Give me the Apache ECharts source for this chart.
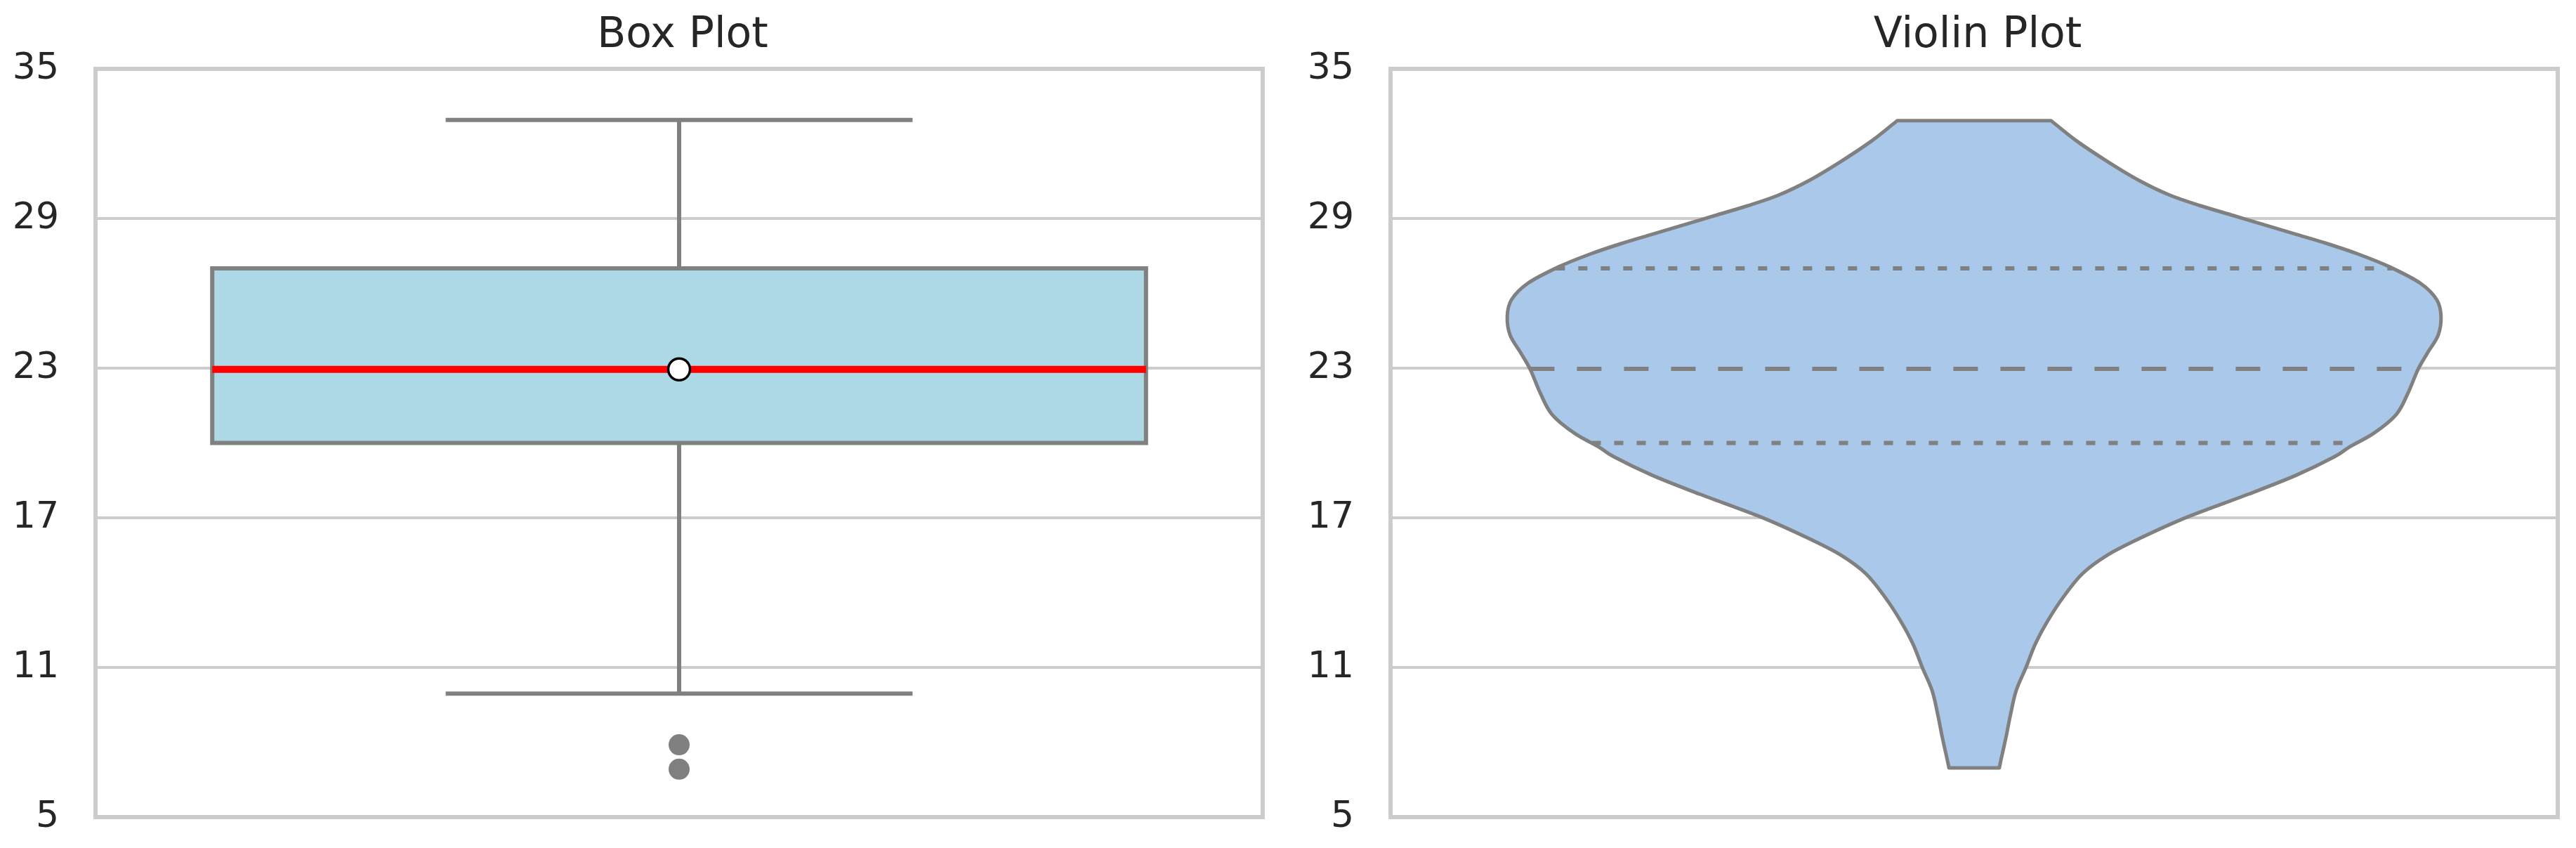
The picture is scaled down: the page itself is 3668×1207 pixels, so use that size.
<!DOCTYPE html>
<html>
<head>
<meta charset="utf-8">
<title>Box Plot / Violin Plot</title>
<script src="https://cdn.jsdelivr.net/npm/echarts@6/dist/echarts.min.js"></script>
<style>
    html, body { margin: 0; padding: 0; background: #ffffff; }
    #chart { width: 3668px; height: 1207px; }
</style>
</head>
<body>
<div id="chart"></div>
<script>
// panel titles and y ticks
let panelTitles = ['Box Plot', 'Violin Plot'];
let yTicks = [5, 11, 17, 23, 29, 35];

// box plot: lower whisker, Q1, median, Q3, upper whisker
let boxStats = [9.95, 20.0, 22.95, 27.0, 32.95];
let boxMean = [22.95];
let boxOutliers = [7.9, 6.92];

// violin outline: y value and relative density (1 = widest point)
let violinY = [32.92, 32.13, 31.28, 30.53, 29.93, 29.5, 29.12, 28.75, 28.37, 28.0,
    27.57, 27.06, 26.4, 25.74, 25.08, 24.33, 23.58, 22.92, 21.99, 21.14,
    20.39, 19.83, 19.45, 18.7, 17.95, 17.01, 16.16, 15.51, 14.76, 13.82,
    12.88, 11.94, 11.0, 10.07, 9.12, 8.18, 7.25, 6.97];
let violinDensity = [0.165, 0.218, 0.286, 0.353, 0.42, 0.487, 0.555, 0.621, 0.689, 0.755,
    0.823, 0.89, 0.956, 0.991, 1.0, 0.994, 0.97, 0.95, 0.929, 0.904,
    0.856, 0.803, 0.772, 0.689, 0.588, 0.454, 0.353, 0.286, 0.232, 0.191,
    0.158, 0.131, 0.111, 0.09, 0.078, 0.068, 0.057, 0.054];
// Q1, median, Q3 drawn inside the violin
let violinQuartiles = [20.0, 22.97, 27.0];

let chartDom = document.getElementById('chart');
let myChart = echarts.init(chartDom);

let gray = '#808080';
let textColor = '#262626';
let gridColor = '#cccccc';
let boxHalf = 0.4;      // box is 80% of the panel width
let capHalf = 0.2;      // whisker caps are half the box
let violinHalf = 0.4;   // widest part of violin

// linear lookup of density between the sampled outline points
let densityAt = function (y) {
    for (let i = 0; i < violinY.length - 1; i++) {
        let y0 = violinY[i], y1 = violinY[i + 1];
        if (y <= y0 && y >= y1) {
            let t = (y - y0) / (y1 - y0);
            return violinDensity[i] + t * (violinDensity[i + 1] - violinDensity[i]);
        }
    }
    return 0;
};

let lineEl = function (p0, p1, color, width, dash) {
    return {
        type: 'line',
        shape: { x1: p0[0], y1: p0[1], x2: p1[0], y2: p1[1] },
        style: { stroke: color, lineWidth: width, lineDash: dash || null, lineCap: 'butt' }
    };
};

// catmull-rom through the pixel points -> cubic bezier commands
let curveThrough = function (pts) {
    let d = '';
    let n = pts.length;
    for (let i = 0; i < n - 1; i++) {
        let p0 = pts[Math.max(i - 1, 0)];
        let p1 = pts[i];
        let p2 = pts[i + 1];
        let p3 = pts[Math.min(i + 2, n - 1)];
        let c1 = [p1[0] + (p2[0] - p0[0]) / 6, p1[1] + (p2[1] - p0[1]) / 6];
        let c2 = [p2[0] - (p3[0] - p1[0]) / 6, p2[1] - (p3[1] - p1[1]) / 6];
        d += ' C' + c1[0] + ' ' + c1[1] + ' ' + c2[0] + ' ' + c2[1] + ' ' + p2[0] + ' ' + p2[1];
    }
    return d;
};

let renderBox = function (params, api) {
    let x = api.value(0);
    let lo = api.value(1), q1 = api.value(2), med = api.value(3), q3 = api.value(4), hi = api.value(5);
    let tl = api.coord([x - boxHalf, q3]);
    let br = api.coord([x + boxHalf, q1]);
    let children = [];
    // whiskers
    children.push(lineEl(api.coord([x, q3]), api.coord([x, hi]), gray, 6));
    children.push(lineEl(api.coord([x, q1]), api.coord([x, lo]), gray, 6));
    children.push(lineEl(api.coord([x - capHalf, hi]), api.coord([x + capHalf, hi]), gray, 6));
    children.push(lineEl(api.coord([x - capHalf, lo]), api.coord([x + capHalf, lo]), gray, 6));
    // box
    children.push({
        type: 'rect',
        shape: { x: tl[0], y: tl[1], width: br[0] - tl[0], height: br[1] - tl[1] },
        style: { fill: '#add8e6', stroke: gray, lineWidth: 6 }
    });
    // median
    children.push(lineEl(api.coord([x - boxHalf, med]), api.coord([x + boxHalf, med]), '#ff0000', 10));
    return { type: 'group', children: children };
};

let renderViolin = function (params, api) {
    let left = [], right = [];
    violinY.forEach(function (y, i) {
        left.push(api.coord([-violinDensity[i] * violinHalf, y]));
    });
    for (let i = violinY.length - 1; i >= 0; i--) {
        right.push(api.coord([violinDensity[i] * violinHalf, violinY[i]]));
    }
    let d = 'M' + left[0][0] + ' ' + left[0][1] + curveThrough(left)
        + ' L' + right[0][0] + ' ' + right[0][1] + curveThrough(right) + ' Z';
    let children = [{
        type: 'path',
        shape: { pathData: d },
        style: { fill: '#aac8ea', stroke: gray, lineWidth: 5, lineJoin: 'round' }
    }];
    violinQuartiles.forEach(function (q, i) {
        let w = densityAt(q) * violinHalf;
        let dash = i === 1 ? [35, 32] : [13, 19];
        children.push(lineEl(api.coord([-w, q]), api.coord([w, q]), gray, 6, dash));
    });
    return { type: 'group', children: children };
};

let makeYAxis = function (idx) {
    return {
        type: 'value',
        gridIndex: idx,
        min: yTicks[0],
        max: yTicks[yTicks.length - 1],
        interval: yTicks[1] - yTicks[0],
        axisLine: { show: false },
        axisTick: { show: false },
        axisLabel: {
            fontSize: 52,
            color: textColor,
            fontFamily: 'DejaVu Sans',
            margin: 52
        },
        splitLine: { show: true, lineStyle: { color: gridColor, width: 4 } }
    };
};

let makeXAxis = function (idx) {
    return { type: 'value', gridIndex: idx, min: -0.5, max: 0.5, show: false };
};

let titleStyle = { fontSize: 60, fontWeight: 'normal', color: textColor, fontFamily: 'DejaVu Sans' };

let option = {
    backgroundColor: '#ffffff',
    animation: false,
    title: [
        { text: panelTitles[0], left: 967, top: 16, textAlign: 'center', textStyle: titleStyle },
        { text: panelTitles[1], left: 2811, top: 16, textAlign: 'center', textStyle: titleStyle }
    ],
    grid: [
        { left: 136, top: 98, width: 1662, height: 1065, show: true, borderColor: gridColor, borderWidth: 6, backgroundColor: 'transparent' },
        { left: 1980, top: 98, width: 1662, height: 1065, show: true, borderColor: gridColor, borderWidth: 6, backgroundColor: 'transparent' }
    ],
    xAxis: [makeXAxis(0), makeXAxis(1)],
    yAxis: [makeYAxis(0), makeYAxis(1)],
    series: [
        {
            type: 'custom',
            xAxisIndex: 0,
            yAxisIndex: 0,
            clip: false,
            silent: true,
            encode: { x: 0, y: [1, 2, 3, 4, 5] },
            data: [[0].concat(boxStats)],
            renderItem: renderBox
        },
        {
            type: 'scatter',
            xAxisIndex: 0,
            yAxisIndex: 0,
            symbol: 'circle',
            symbolSize: 30,
            silent: true,
            itemStyle: { color: gray, opacity: 1 },
            data: boxOutliers.map(function (v) { return [0, v]; })
        },
        {
            type: 'scatter',
            xAxisIndex: 0,
            yAxisIndex: 0,
            symbol: 'circle',
            symbolSize: 31,
            silent: true,
            z: 5,
            itemStyle: { color: '#ffffff', borderColor: '#000000', borderWidth: 3.5, opacity: 1 },
            data: boxMean.map(function (v) { return [0, v]; })
        },
        {
            type: 'custom',
            xAxisIndex: 1,
            yAxisIndex: 1,
            clip: false,
            silent: true,
            encode: { x: 0, y: 1 },
            data: [[0, violinQuartiles[1]]],
            renderItem: renderViolin
        }
    ]
};

myChart.setOption(option);
</script>
</body>
</html>
